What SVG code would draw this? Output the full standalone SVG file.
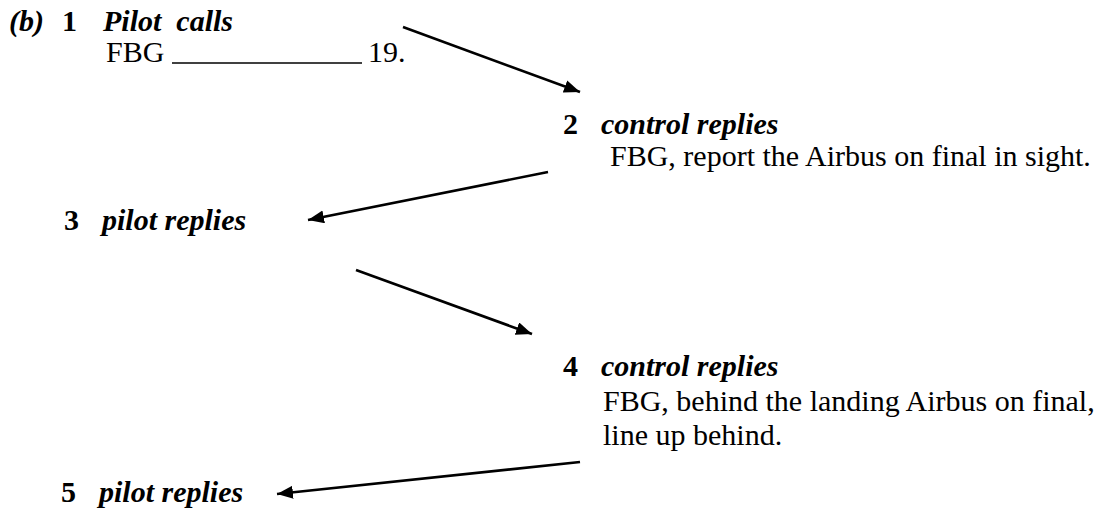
<svg xmlns="http://www.w3.org/2000/svg" width="1106" height="515" viewBox="0 0 1106 515">
<style>
text{font-family:"Liberation Serif","Times New Roman",serif;font-size:30px;fill:#000}
.h{font-weight:bold;font-style:italic}
.n{font-weight:bold}
.c line{stroke:#000;stroke-width:2.6}
</style>
<defs>
<marker id="ah" markerUnits="userSpaceOnUse" markerWidth="18" markerHeight="14" refX="16" refY="6.5" orient="auto">
<path d="M0,0 L16,6.5 L0,13 z" fill="#000"/>
</marker>
</defs>
<rect width="1106" height="515" fill="#fff"/>
<g id="n1">
<text x="9" y="31" class="h">(b)</text>
<text x="62" y="31" class="n">1</text>
<text x="103" y="31" class="h" xml:space="preserve">Pilot  calls</text>
<text x="106" y="62">FBG</text>
<line x1="172" y1="63" x2="362" y2="63" stroke="#000" stroke-width="1.5"/>
<text x="368" y="62">19.</text>
</g>
<g id="n2">
<text x="563" y="134" class="n">2</text>
<text x="601" y="134" class="h">control replies</text>
<text x="610" y="166">FBG, report the Airbus on final in sight.</text>
</g>
<g id="n3">
<text x="64" y="230" class="n">3</text>
<text x="102" y="230" class="h">pilot replies</text>
</g>
<g id="n4">
<text x="563" y="376" class="n">4</text>
<text x="601" y="376" class="h">control replies</text>
<text x="603" y="411">FBG, behind the landing Airbus on final,</text>
<text x="603" y="445">line up behind.</text>
</g>
<g id="n5">
<text x="61" y="502" class="n">5</text>
<text x="99" y="502" class="h">pilot replies</text>
</g>
<g id="connectors" class="c">
<line x1="403" y1="27" x2="580" y2="92" marker-end="url(#ah)"/>
<line x1="548" y1="172" x2="308" y2="220" marker-end="url(#ah)"/>
<line x1="356" y1="270" x2="532" y2="334" marker-end="url(#ah)"/>
<line x1="580" y1="462" x2="277" y2="494" marker-end="url(#ah)"/>
</g>
</svg>
